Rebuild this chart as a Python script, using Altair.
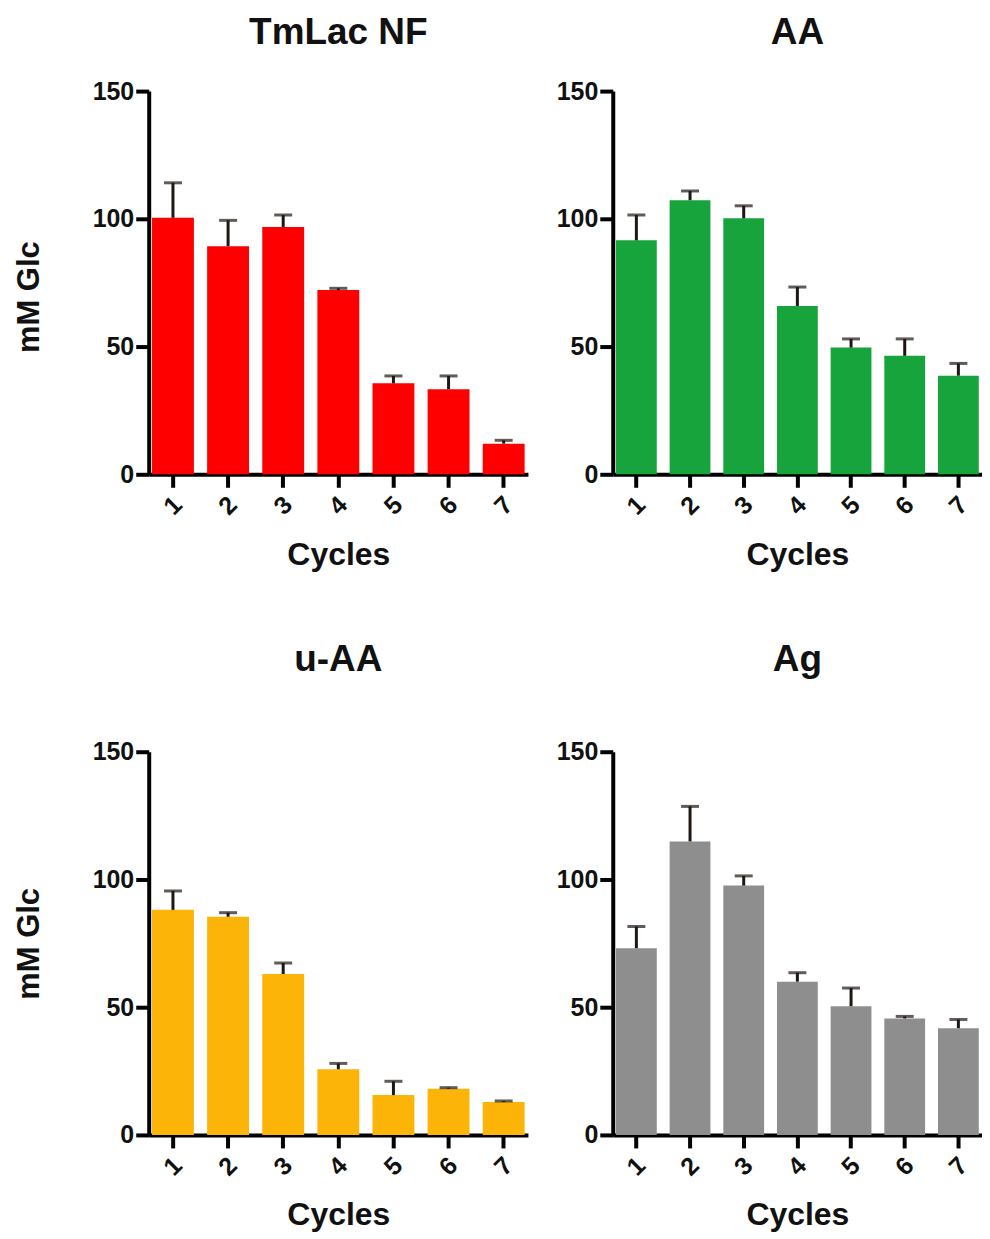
import altair as alt
import pandas as pd

cycles = ["1", "2", "3", "4", "5", "6", "7"]
panel_titles = ["TmLac NF", "AA", "u-AA", "Ag"]
bar_colors = ["#fe0000", "#17a43d", "#fdb408", "#8e8e8e"]

tm_mean = [100.4, 89.3, 96.8, 72.1, 35.6, 33.3, 12.0]
tm_err = [13.7, 10.1, 4.7, 0.7, 2.9, 5.2, 1.3]
aa_mean = [91.6, 107.3, 100.2, 65.9, 49.6, 46.4, 38.6]
aa_err = [9.9, 3.6, 4.9, 7.4, 3.4, 6.6, 4.8]
uaa_mean = [88.1, 85.4, 63.0, 25.7, 15.6, 18.1, 12.9]
uaa_err = [7.4, 1.6, 4.3, 2.3, 5.4, 0.4, 0.4]
ag_mean = [73.1, 114.9, 97.6, 60.0, 50.4, 45.6, 41.8]
ag_err = [8.5, 13.7, 3.8, 3.5, 7.1, 0.8, 3.4]

FONT = "Liberation Sans"
ERR_COLOR = "#1e1712"


def panel(title, mean, err, color, show_ytitle, w, title_offset, ytitle_y):
    df = pd.DataFrame({
        "Cycle": cycles,
        "mean": mean,
        "upper": [m + e for m, e in zip(mean, err)],
    })
    ytitle = "mM Glc" if show_ytitle else None
    xenc = alt.X(
        "Cycle:N", sort=cycles, title="Cycles",
        scale=alt.Scale(paddingInner=0.24, paddingOuter=0.06),
        axis=alt.Axis(labelAngle=-45, labelAlign="center", labelBaseline="middle",
                      labelPadding=18, titlePadding=20),
    )
    yaxis = alt.Axis(values=[0, 50, 100, 150], titlePadding=47, titleY=ytitle_y)
    yscale = alt.Scale(domain=[0, 150], nice=False)
    base = alt.Chart(df)
    bars = base.mark_bar(color=color).encode(
        x=xenc,
        y=alt.Y("mean:Q", scale=yscale, axis=yaxis, title=ytitle),
    )
    rule = base.mark_rule(color=ERR_COLOR, strokeWidth=3).encode(
        x=alt.X("Cycle:N", sort=cycles),
        y=alt.Y("mean:Q", scale=yscale, title=ytitle),
        y2="upper:Q",
    )
    cap = base.mark_tick(color=ERR_COLOR, thickness=3, size=18).encode(
        x=alt.X("Cycle:N", sort=cycles),
        y=alt.Y("upper:Q", scale=yscale, title=ytitle),
    )
    return alt.layer(bars, rule, cap).properties(
        width=w, height=384,
        title=alt.TitleParams(title, font=FONT, fontSize=37, fontWeight="bold",
                              color="#111111", offset=title_offset, anchor="middle"),
    )


p1 = panel(panel_titles[0], tm_mean, tm_err, bar_colors[0], True, 380, 27, 206)
p2 = panel(panel_titles[1], aa_mean, aa_err, bar_colors[1], False, 370, 27, 206)
p3 = panel(panel_titles[2], uaa_mean, uaa_err, bar_colors[2], True, 380, 61, 192)
p4 = panel(panel_titles[3], ag_mean, ag_err, bar_colors[3], False, 370, 61, 192)

chart = alt.vconcat(
    alt.hconcat(p1, p2, spacing=28),
    alt.hconcat(p3, p4, spacing=28),
    spacing=70,
).properties(
    padding={"left": 5, "top": 5, "right": 0, "bottom": 0},
).configure_view(
    stroke=None,
).configure_axis(
    grid=False,
    domainColor="#000000",
    domainWidth=4,
    tickColor="#000000",
    tickWidth=4,
    tickSize=13,
    labelFont=FONT,
    labelFontSize=25,
    labelFontWeight="bold",
    labelColor="#111111",
    titleFont=FONT,
    titleFontSize=32,
    titleFontWeight="bold",
    titleColor="#111111",
).configure_axisY(
    labelPadding=2,
    titleFontSize=31,
)

chart.save("out.html", embed_options={"renderer": "svg", "actions": False})
